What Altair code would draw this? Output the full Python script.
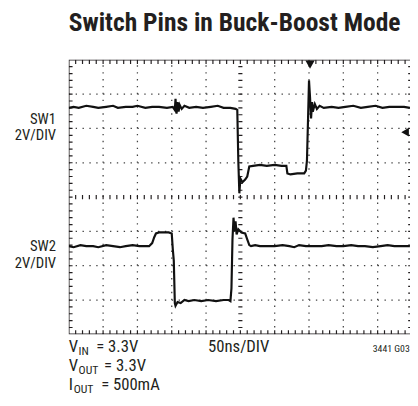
import altair as alt
import pandas as pd
import numpy as np

# Time in screen divisions (50ns/DIV), voltage in screen divisions (2V/DIV), 0 = screen centre
sw1_t = [0, 0.14, 0.29, 0.51, 0.71, 0.86, 1.09, 1.29, 1.43, 1.66,
         1.86, 2.0, 2.23, 2.43, 2.63, 2.86, 3.03, 3.09, 3.11, 3.14,
         3.17, 3.2, 3.23, 3.29, 3.37, 3.51, 3.71, 3.91, 4.14, 4.34,
         4.51, 4.71, 4.86, 4.91, 4.94, 4.97, 5.0, 5.06, 5.14, 5.2,
         5.26, 5.37, 5.57, 5.77, 6.0, 6.2, 6.34, 6.37, 6.46, 6.66,
         6.86, 6.91, 6.94, 6.97, 7.0, 7.03, 7.06, 7.09, 7.11, 7.17,
         7.23, 7.31, 7.43, 7.66, 7.86, 8.06, 8.29, 8.51, 8.71, 8.94,
         9.14, 9.34, 9.57, 9.77, 9.94]
sw1_v = [2.60, 2.63, 2.60, 2.66, 2.63, 2.60, 2.63, 2.66, 2.60, 2.63,
         2.63, 2.66, 2.60, 2.63, 2.63, 2.60, 2.63, 2.54, 2.86, 2.43,
         2.77, 2.49, 2.69, 2.57, 2.66, 2.60, 2.63, 2.60, 2.63, 2.66,
         2.60, 2.60, 2.57, 2.54, 1.06, 0.11, 0.54, 0.43, 0.51, 0.60,
         0.89, 0.91, 0.94, 0.91, 0.94, 0.91, 0.91, 0.69, 0.66, 0.69,
         0.69, 0.77, 1.06, 2.20, 3.40, 2.91, 2.29, 2.77, 2.49, 2.71,
         2.57, 2.66, 2.60, 2.63, 2.60, 2.63, 2.66, 2.60, 2.63, 2.66,
         2.60, 2.63, 2.63, 2.63, 2.60]

sw2_t = [0, 0.14, 0.34, 0.51, 0.71, 0.86, 1.09, 1.29, 1.49, 1.66,
         1.86, 2.06, 2.23, 2.34, 2.43, 2.49, 2.54, 2.63, 2.77, 2.91,
         3.0, 3.03, 3.06, 3.09, 3.11, 3.17, 3.26, 3.37, 3.49, 3.66,
         3.86, 4.06, 4.29, 4.51, 4.66, 4.71, 4.74, 4.77, 4.8, 4.83,
         4.86, 4.89, 4.94, 5.03, 5.14, 5.2, 5.26, 5.31, 5.43, 5.57,
         5.77, 6.0, 6.23, 6.43, 6.57, 6.71, 6.91, 7.14, 7.37, 7.57,
         7.8, 8.0, 8.23, 8.43, 8.63, 8.86, 9.09, 9.29, 9.49, 9.71, 9.94]
sw2_v = [-1.43, -1.46, -1.40, -1.43, -1.43, -1.46, -1.40, -1.43, -1.46, -1.43,
         -1.40, -1.43, -1.43, -1.43, -1.34, -1.17, -1.06, -1.03, -1.03, -1.03,
         -1.06, -1.51, -1.86, -3.09, -3.17, -3.06, -3.09, -3.00, -3.03, -3.00,
         -3.03, -3.00, -3.03, -3.00, -3.00, -3.03, -2.66, -1.23, -0.60, -1.00,
         -0.71, -1.09, -0.94, -1.03, -1.06, -1.23, -1.40, -1.43, -1.40, -1.43,
         -1.43, -1.43, -1.40, -1.43, -1.46, -1.40, -1.43, -1.43, -1.43, -1.40,
         -1.43, -1.43, -1.40, -1.43, -1.43, -1.46, -1.43, -1.40, -1.43, -1.43, -1.43]

# trigger markers (divisions)
trig_pos_t = [7.03]
trig_pos_v = [3.86]
trig_lvl_t = [9.8]
trig_lvl_v = [1.89]

major_x = [1, 2, 3, 4, 6, 7, 8, 9]
major_y = [-3, -2, -1, 1, 2, 3]

W, H = 348, 280
XMAX = 9.943
FONT = "Liberation Sans Narrow, Roboto Condensed, Arial Narrow, DejaVu Sans Condensed, sans-serif"
INK = "#231f20"

xs = alt.Scale(domain=[0, XMAX], nice=False, zero=False)
ys = alt.Scale(domain=[-4, 4], nice=False, zero=False)
X = lambda f: alt.X(f, type="quantitative", scale=xs, axis=None)
Y = lambda f: alt.Y(f, type="quantitative", scale=ys, axis=None)

minor_x = np.round(np.arange(0.2, 10.0, 0.2), 2)
minor_y = np.round(np.arange(-3.8, 4.0, 0.2), 2)

vgrid = alt.Chart(pd.DataFrame({"t": major_x, "a": -4, "b": 4})).mark_rule(
    color="#444", strokeWidth=1.3, strokeDash=[1.4, 5.6], clip=True
).encode(x=X("t"), y=Y("a"), y2="b")
hgrid = alt.Chart(pd.DataFrame({"v": major_y, "a": 0, "b": 10})).mark_rule(
    color="#444", strokeWidth=1.3, strokeDash=[1.4, 5.6], clip=True
).encode(y=Y("v"), x=X("a"), x2="b")

frame = alt.Chart(pd.DataFrame({"a": [0], "b": [10], "c": [-4], "d": [4]})).mark_rect(
    fill=None, stroke=INK, strokeWidth=1.5, clip=True
).encode(x=X("a"), x2="b", y=Y("c"), y2="d")

tx = pd.DataFrame({"t": np.concatenate([minor_x, minor_x, minor_x]),
                   "a": np.concatenate([np.full(len(minor_x), 4.0), np.full(len(minor_x), -4.0), np.full(len(minor_x), -0.06)]),
                   "b": np.concatenate([np.full(len(minor_x), 3.88), np.full(len(minor_x), -3.88), np.full(len(minor_x), 0.06)])})
ticks_x = alt.Chart(tx).mark_rule(color=INK, strokeWidth=1.2, clip=True).encode(
    x=X("t"), y=Y("a"), y2="b")
ty = pd.DataFrame({"v": np.concatenate([minor_y, minor_y, minor_y]),
                   "a": np.concatenate([np.full(len(minor_y), 0.0), np.full(len(minor_y), 10.0), np.full(len(minor_y), 4.94)]),
                   "b": np.concatenate([np.full(len(minor_y), 0.11), np.full(len(minor_y), 9.89), np.full(len(minor_y), 5.06)])})
ticks_y = alt.Chart(ty).mark_rule(color=INK, strokeWidth=1.2, clip=True).encode(
    y=Y("v"), x=X("a"), x2="b")

trace1 = alt.Chart(pd.DataFrame({"t": sw1_t, "v": sw1_v})).mark_line(
    color="#111", strokeWidth=2.2, clip=True).encode(x=X("t"), y=Y("v"), order="t:Q")
trace2 = alt.Chart(pd.DataFrame({"t": sw2_t, "v": sw2_v})).mark_line(
    color="#111", strokeWidth=2.2, clip=True).encode(x=X("t"), y=Y("v"), order="t:Q")

m1 = alt.Chart(pd.DataFrame({"t": trig_pos_t, "v": trig_pos_v})).mark_point(
    shape="triangle-down", filled=True, color="#111", size=90, opacity=1).encode(x=X("t"), y=Y("v"))
m2 = alt.Chart(pd.DataFrame({"t": trig_lvl_t, "v": trig_lvl_v})).mark_point(
    shape="triangle-left", filled=True, color="#111", size=80, opacity=1).encode(x=X("t"), y=Y("v"))


def txt(s, x, y, size=17, align="left"):
    return alt.Chart(pd.DataFrame({"s": [s]})).mark_text(
        font=FONT, fontSize=size, color=INK, align=align, baseline="alphabetic"
    ).encode(x=alt.value(x), y=alt.value(y), text="s:N")

labels = [
    txt("SW1", -13, 65, 15, "right"),
    txt("2V/DIV", -13, 82, 15, "right"),
    txt("SW2", -13, 195, 15, "right"),
    txt("2V/DIV", -13, 212, 15, "right"),
    txt("V", 0, 298), txt("IN", 10, 301, 12), txt("= 3.3V", 28, 298),
    txt("V", 0, 317), txt("OUT", 10, 320, 12), txt("= 3.3V", 36, 317),
    txt("I", 0, 337), txt("OUT", 5, 340, 12), txt("= 500mA", 33, 337),
    txt("50ns/DIV", 142, 298),
    txt("3441 G03", 310, 298, 10),
]

chart = alt.layer(vgrid, hgrid, ticks_x, ticks_y, frame, trace1, trace2, m1, m2, *labels).properties(
    width=W, height=H,
    title=alt.TitleParams("Switch Pins in Buck-Boost Mode", font=FONT, fontSize=26,
                          fontWeight="bold", color=INK, anchor="start", frame="group", offset=24),
    autosize="none",
    padding={"left": 62, "top": 49, "right": 0, "bottom": 58},
    background="white",
).configure_view(stroke=None)

chart.save("out.html", embed_options={"renderer": "svg", "actions": False})
